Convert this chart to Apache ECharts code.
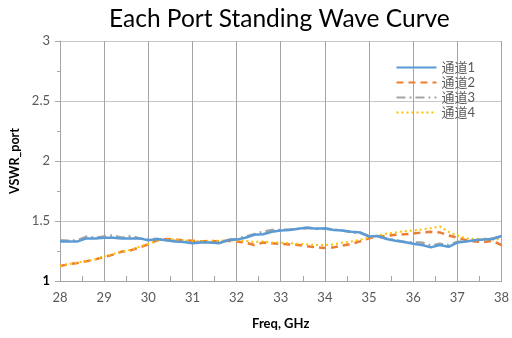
<!DOCTYPE html>
<html>
<head>
<meta charset="utf-8">
<script src="https://cdn.jsdelivr.net/npm/echarts@6/dist/echarts.min.js"></script>
<style>html,body{margin:0;padding:0;background:#fff}#main{width:512px;height:338px}</style>
</head>
<body>
<div id="main"></div>
<script>
var freq = [28.0, 28.2, 28.4, 28.6, 28.8, 29.0, 29.2, 29.4, 29.6, 29.8,
            30.0, 30.2, 30.4, 30.6, 30.8, 31.0, 31.2, 31.4, 31.6, 31.8,
            32.0, 32.2, 32.4, 32.6, 32.8, 33.0, 33.2, 33.4, 33.6, 33.8,
            34.0, 34.2, 34.4, 34.6, 34.8, 35.0, 35.2, 35.4, 35.6, 35.8,
            36.0, 36.2, 36.4, 36.6, 36.8, 37.0, 37.2, 37.4, 37.6, 37.8, 38.0];

var ch1 = [1.33, 1.33, 1.33, 1.355, 1.355, 1.36, 1.36, 1.355, 1.355, 1.355,
           1.34, 1.35, 1.34, 1.33, 1.325, 1.315, 1.32, 1.32, 1.315, 1.34,
           1.345, 1.36, 1.385, 1.39, 1.41, 1.42, 1.425, 1.435, 1.445, 1.435,
           1.44, 1.425, 1.42, 1.41, 1.405, 1.37, 1.375, 1.35, 1.335, 1.325,
           1.31, 1.30, 1.28, 1.30, 1.285, 1.32, 1.33, 1.34, 1.345, 1.35, 1.375];

var ch2 = [1.125, 1.14, 1.15, 1.165, 1.18, 1.20, 1.22, 1.245, 1.255, 1.28,
           1.305, 1.34, 1.35, 1.345, 1.34, 1.335, 1.33, 1.335, 1.33, 1.335,
           1.33, 1.32, 1.30, 1.32, 1.315, 1.31, 1.305, 1.30, 1.29, 1.28,
           1.275, 1.28, 1.295, 1.31, 1.33, 1.355, 1.37, 1.375, 1.385, 1.39,
           1.395, 1.405, 1.41, 1.405, 1.38, 1.36, 1.34, 1.33, 1.325, 1.335, 1.30];

var ch3 = [1.34, 1.335, 1.34, 1.37, 1.36, 1.37, 1.38, 1.36, 1.375, 1.355,
           1.35, 1.35, 1.34, 1.335, 1.33, 1.32, 1.325, 1.32, 1.32, 1.345,
           1.35, 1.37, 1.39, 1.41, 1.425, 1.425, 1.43, 1.435, 1.44, 1.44,
           1.435, 1.43, 1.42, 1.405, 1.40, 1.375, 1.37, 1.355, 1.34, 1.325,
           1.32, 1.32, 1.295, 1.31, 1.30, 1.325, 1.335, 1.34, 1.35, 1.355, 1.37];

var ch4 = [1.125, 1.14, 1.155, 1.165, 1.18, 1.205, 1.225, 1.245, 1.26, 1.285,
           1.31, 1.335, 1.345, 1.345, 1.34, 1.335, 1.33, 1.335, 1.335, 1.34,
           1.335, 1.335, 1.325, 1.33, 1.32, 1.32, 1.315, 1.31, 1.305, 1.30,
           1.30, 1.305, 1.32, 1.33, 1.345, 1.36, 1.38, 1.395, 1.405, 1.415,
           1.42, 1.43, 1.44, 1.455, 1.41, 1.38, 1.355, 1.35, 1.35, 1.345, 1.35];

var names = ['通道1', '通道2', '通道3', '通道4'];

function pairs(vals) {
  return freq.map(function (f, i) { return [f, vals[i]]; });
}

var txt = '#595959';
var font = 'Lato, "Open Sans", "Noto Sans CJK SC", sans-serif';

var myChart = echarts.init(document.getElementById('main'));
var option = {
  animation: false,
  backgroundColor: '#fff',
  title: {
    text: 'Each Port Standing Wave Curve',
    left: 104,
    top: 2,
    textStyle: { fontFamily: font, fontSize: 24.5, fontWeight: 'normal', color: '#000' }
  },
  legend: {
    orient: 'vertical',
    right: 32,
    top: 56,
    itemWidth: 40,
    itemHeight: 3,
    itemGap: 2,
    itemStyle: { opacity: 0 },
    textStyle: { fontFamily: font, fontSize: 13, color: txt },
    data: names
  },
  grid: { left: 60, right: 9, top: 41, bottom: 57, containLabel: false },
  xAxis: {
    type: 'value',
    min: 28,
    max: 38,
    interval: 1,
    name: 'Freq, GHz',
    nameLocation: 'middle',
    nameGap: 36,
    nameTextStyle: { fontFamily: font, fontSize: 13, fontWeight: 'bold', color: '#000' },
    axisLine: { show: true, onZero: false, lineStyle: { color: '#a6a6a6' } },
    axisTick: { show: true, inside: true, length: 5, lineStyle: { color: '#a6a6a6' } },
    minorTick: { show: true, splitNumber: 2, length: 5, lineStyle: { color: '#a6a6a6' } },
    axisLabel: { fontFamily: font, fontSize: 13, color: txt, margin: 10 },
    splitLine: { show: true, lineStyle: { color: '#a4a4a4', width: 1 } }
  },
  yAxis: {
    type: 'value',
    min: 1,
    max: 3,
    interval: 0.5,
    name: 'VSWR_port',
    nameLocation: 'middle',
    nameGap: 36,
    nameTextStyle: { fontFamily: font, fontSize: 12.5, fontWeight: 'bold', color: '#000' },
    axisLine: { show: true, lineStyle: { color: '#a6a6a6' } },
    axisTick: { show: true, length: 5, lineStyle: { color: '#a6a6a6' } },
    minorTick: { show: true, splitNumber: 2, length: 3, lineStyle: { color: '#a6a6a6' } },
    axisLabel: {
      fontFamily: font, fontSize: 13, color: txt, margin: 10,
      formatter: function (v) { return v === 1 ? '{b|1}' : String(v); },
      rich: { b: { fontFamily: font, fontSize: 13, fontWeight: 'bold', color: '#000' } }
    },
    splitLine: { show: true, lineStyle: { color: '#c8c8c8', width: 1 } }
  },
  series: [
    {
      name: names[0], type: 'line', data: pairs(ch1), symbol: 'none', z: 4,
      itemStyle: { color: '#5b9bd5' },
      lineStyle: { color: '#5b9bd5', width: 2.5 }
    },
    {
      name: names[1], type: 'line', data: pairs(ch2), symbol: 'none', z: 3,
      itemStyle: { color: '#ed7d31' },
      lineStyle: { color: '#ed7d31', width: 2.5, type: [7, 5] }
    },
    {
      name: names[2], type: 'line', data: pairs(ch3), symbol: 'none', z: 2,
      itemStyle: { color: '#a5a5a5' },
      lineStyle: { color: '#a5a5a5', width: 2.5, type: [9, 4, 2, 4] }
    },
    {
      name: names[3], type: 'line', data: pairs(ch4), symbol: 'none', z: 3,
      itemStyle: { color: '#ffc000' },
      lineStyle: { color: '#ffc000', width: 2, type: [2, 3] }
    }
  ]
};
myChart.setOption(option);
</script>
</body>
</html>
